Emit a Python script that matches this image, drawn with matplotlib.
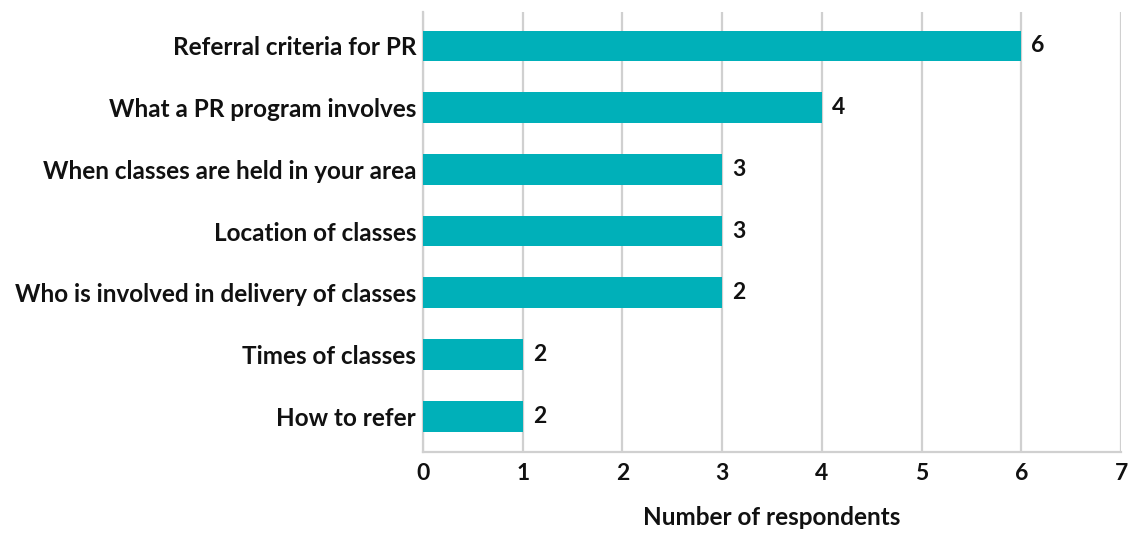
import matplotlib.pyplot as plt
import numpy as np

plt.rcParams['font.family'] = ['Lato', 'DejaVu Sans']

# data (top to bottom as shown)
topics = ['Referral criteria for PR', 'What a PR program involves',
          'When classes are held in your area', 'Location of classes',
          'Who is involved in delivery of classes', 'Times of classes',
          'How to refer']
bar_values = [6, 4, 3, 3, 3, 1, 1]
label_values = [6, 4, 3, 3, 2, 2, 2]
xticks = [0, 1, 2, 3, 4, 5, 6, 7]

teal = '#00b0b9'
grid_col = '#d0d0d0'
txt = '#111111'
fs = 17.5

fig = plt.figure(figsize=(11.28, 5.33), dpi=100)
ax = fig.add_axes([0.375, 0.152, 0.619, 0.8255])

y_pos = np.arange(len(topics))
ax.barh(y_pos, bar_values, height=0.5, color=teal, zorder=3)
for y, v, lab in zip(y_pos, bar_values, label_values):
    ax.text(v + 0.1, y, str(lab), va='center', ha='left',
            fontsize=fs - 1, fontweight='bold', color=txt)

ax.set_yticks(y_pos, labels=topics)
ax.set_ylim(len(topics) - 0.42, -0.55)
ax.set_xlim(0, 7)
ax.set_xticks(xticks)
ax.xaxis.grid(True, color=grid_col, linewidth=1.6, zorder=0)
ax.tick_params(axis='y', length=0, labelsize=fs, pad=5)
ax.tick_params(axis='x', length=0, labelsize=fs - 1, pad=8)
for lab in ax.get_xticklabels() + ax.get_yticklabels():
    lab.set_fontweight('bold')
    lab.set_color(txt)

for s in ['top', 'right']:
    ax.spines[s].set_visible(False)
ax.spines['left'].set_color(grid_col)
ax.spines['left'].set_linewidth(1.6)
ax.spines['bottom'].set_color(grid_col)
ax.spines['bottom'].set_linewidth(1.6)

ax.set_xlabel('Number of respondents', fontsize=fs, fontweight='bold',
              color=txt, labelpad=16)

fig.savefig('out.png', dpi=100)
